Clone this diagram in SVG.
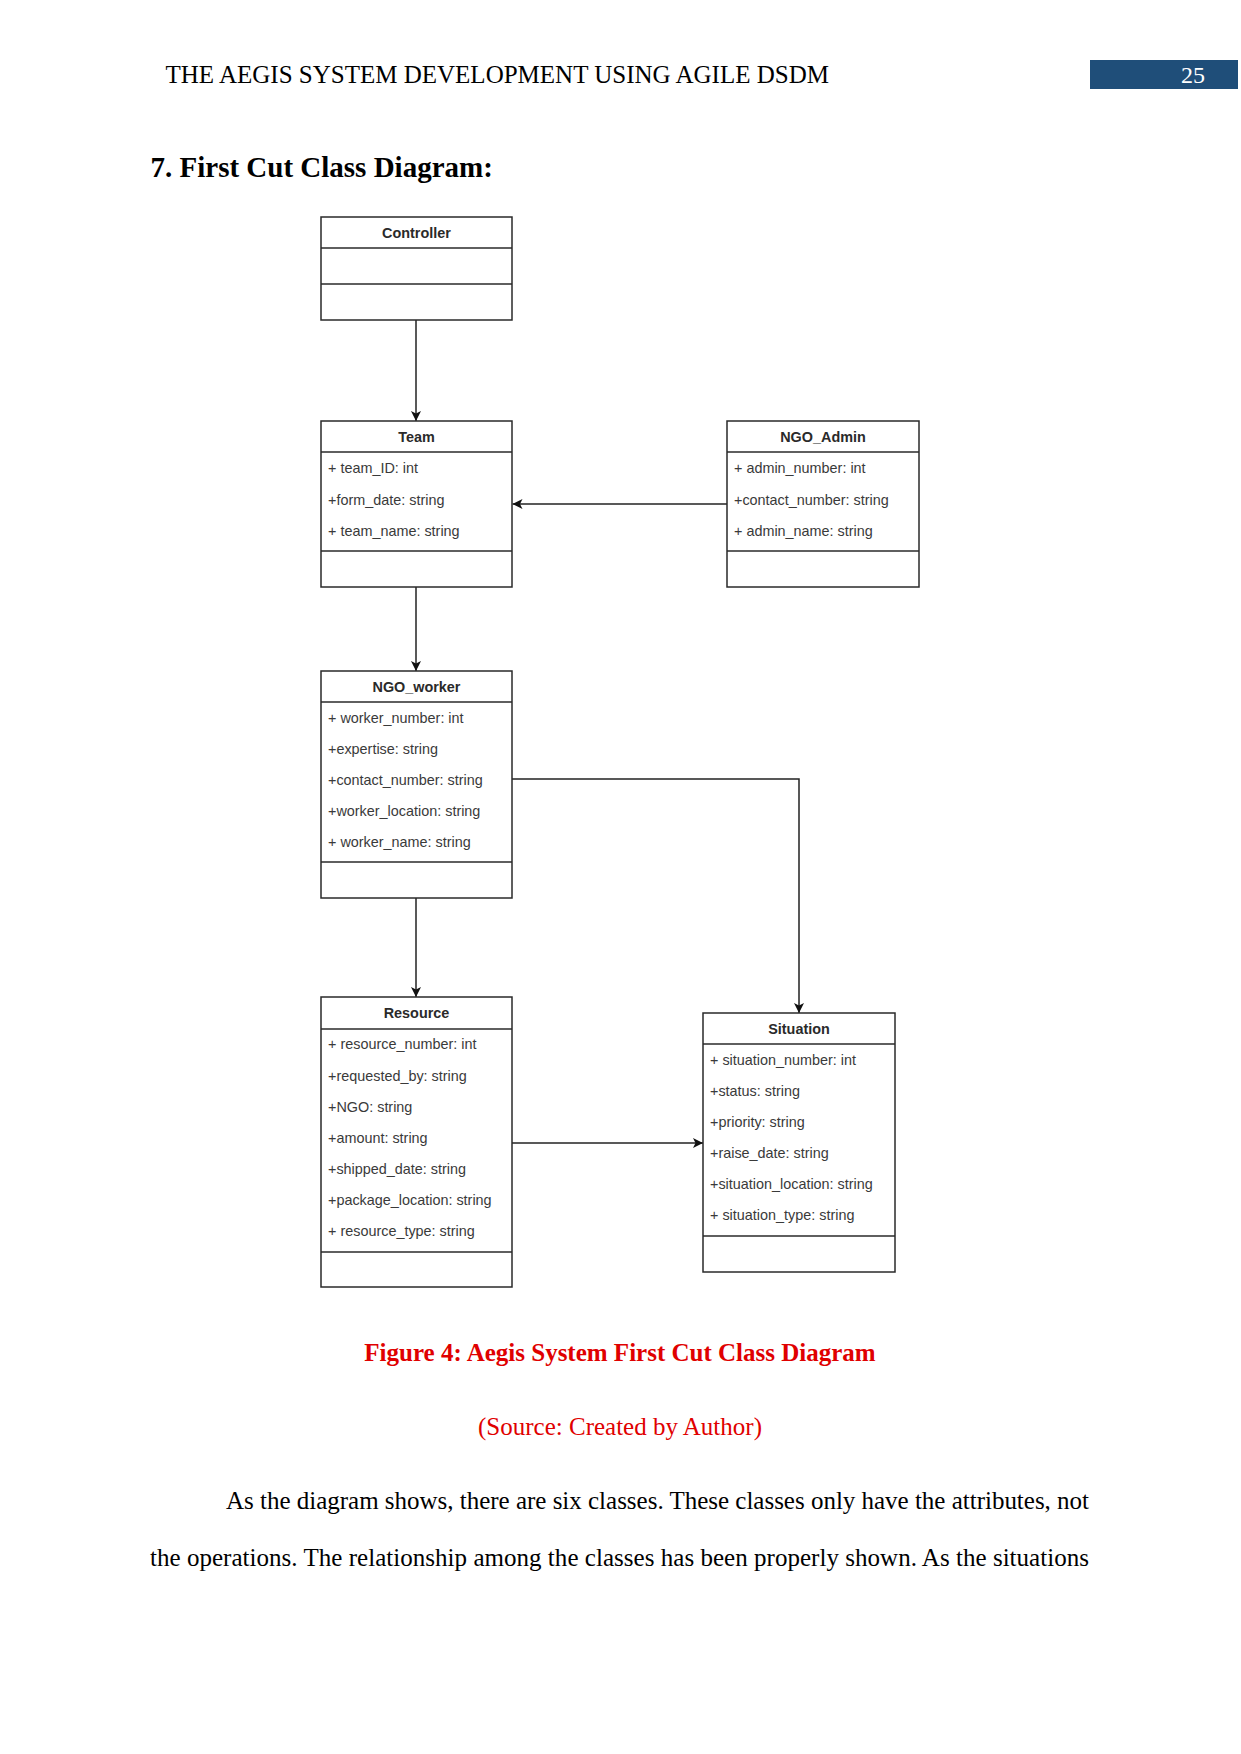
<svg xmlns="http://www.w3.org/2000/svg" width="1241" height="1754" viewBox="0 0 1241 1754">
<style>
.hdr{font-family:"Liberation Serif","Times New Roman",serif;font-size:25px;fill:#000}
.h1{font-family:"Liberation Serif","Times New Roman",serif;font-size:29px;font-weight:bold;fill:#000}
.cap{font-family:"Liberation Serif","Times New Roman",serif;font-size:25px;fill:#e00000}
.body{font-family:"Liberation Serif","Times New Roman",serif;font-size:25px;fill:#000}
.box{fill:#fff;stroke:#2a2a2a;stroke-width:1.5}
.div{stroke:#2a2a2a;stroke-width:1.5}
.cn{font-family:"Liberation Sans",Arial,sans-serif;font-size:14.4px;font-weight:bold;fill:#2a2a2a;text-anchor:middle}
.at{font-family:"Liberation Sans",Arial,sans-serif;font-size:14.4px;fill:#3a3a3a}
.edge{fill:none;stroke:#222;stroke-width:1.5}
</style>
<defs>
<marker id="arr" viewBox="0 0 10 10" refX="10" refY="5" markerWidth="10" markerHeight="10" markerUnits="userSpaceOnUse" orient="auto">
<path d="M0,0 L10,5 L0,10 L2.5,5 z" fill="#111"/>
</marker>
</defs>
<rect width="1241" height="1754" fill="#fff"/>

<!-- page header -->
<text class="hdr" x="165.5" y="83">THE AEGIS SYSTEM DEVELOPMENT USING AGILE DSDM</text>
<rect x="1090" y="60" width="148" height="29" fill="#1f4e79"/>
<text x="1181" y="82.5" font-family="Liberation Serif,'Times New Roman',serif" font-size="24" fill="#fff">25</text>

<text class="h1" x="150.5" y="176.7">7. First Cut Class Diagram:</text>

<!-- connectors -->
<g id="connectors">
<line class="edge" x1="416" y1="320" x2="416" y2="421" marker-end="url(#arr)"/>
<line class="edge" x1="727" y1="504" x2="512.5" y2="504" marker-end="url(#arr)"/>
<line class="edge" x1="416" y1="587" x2="416" y2="671" marker-end="url(#arr)"/>
<polyline class="edge" points="512,779 799,779 799,1013" marker-end="url(#arr)"/>
<line class="edge" x1="416" y1="898" x2="416" y2="997" marker-end="url(#arr)"/>
<line class="edge" x1="512" y1="1143" x2="703" y2="1143" marker-end="url(#arr)"/>
</g>

<g id="Controller">
<rect class="box" x="321" y="217" width="191" height="103"/>
<line class="div" x1="321" y1="248" x2="512" y2="248"/>
<line class="div" x1="321" y1="284" x2="512" y2="284"/>
<text class="cn" x="416.5" y="238">Controller</text>
</g>

<g id="Team">
<rect class="box" x="321" y="421" width="191" height="166"/>
<line class="div" x1="321" y1="452" x2="512" y2="452"/>
<line class="div" x1="321" y1="551" x2="512" y2="551"/>
<text class="cn" x="416.5" y="441.5">Team</text>
<text class="at" x="328" y="473">+ team_ID: int</text>
<text class="at" x="328" y="505">+form_date: string</text>
<text class="at" x="328" y="536">+ team_name: string</text>
</g>

<g id="NGO_Admin">
<rect class="box" x="727" y="421" width="192" height="166"/>
<line class="div" x1="727" y1="452" x2="919" y2="452"/>
<line class="div" x1="727" y1="551" x2="919" y2="551"/>
<text class="cn" x="823" y="441.5">NGO_Admin</text>
<text class="at" x="734" y="473">+ admin_number: int</text>
<text class="at" x="734" y="505">+contact_number: string</text>
<text class="at" x="734" y="536">+ admin_name: string</text>
</g>

<g id="NGO_worker">
<rect class="box" x="321" y="671" width="191" height="227"/>
<line class="div" x1="321" y1="702" x2="512" y2="702"/>
<line class="div" x1="321" y1="862" x2="512" y2="862"/>
<text class="cn" x="416.5" y="691.5">NGO_worker</text>
<text class="at" x="328" y="723">+ worker_number: int</text>
<text class="at" x="328" y="754">+expertise: string</text>
<text class="at" x="328" y="785">+contact_number: string</text>
<text class="at" x="328" y="816">+worker_location: string</text>
<text class="at" x="328" y="847">+ worker_name: string</text>
</g>

<g id="Resource">
<rect class="box" x="321" y="997" width="191" height="290"/>
<line class="div" x1="321" y1="1029" x2="512" y2="1029"/>
<line class="div" x1="321" y1="1252" x2="512" y2="1252"/>
<text class="cn" x="416.5" y="1018">Resource</text>
<text class="at" x="328" y="1049">+ resource_number: int</text>
<text class="at" x="328" y="1081">+requested_by: string</text>
<text class="at" x="328" y="1112">+NGO: string</text>
<text class="at" x="328" y="1143">+amount: string</text>
<text class="at" x="328" y="1174">+shipped_date: string</text>
<text class="at" x="328" y="1205">+package_location: string</text>
<text class="at" x="328" y="1236">+ resource_type: string</text>
</g>

<g id="Situation">
<rect class="box" x="703" y="1013" width="192" height="259"/>
<line class="div" x1="703" y1="1044" x2="895" y2="1044"/>
<line class="div" x1="703" y1="1236" x2="895" y2="1236"/>
<text class="cn" x="799" y="1033.5">Situation</text>
<text class="at" x="710" y="1065">+ situation_number: int</text>
<text class="at" x="710" y="1096">+status: string</text>
<text class="at" x="710" y="1127">+priority: string</text>
<text class="at" x="710" y="1158">+raise_date: string</text>
<text class="at" x="710" y="1189">+situation_location: string</text>
<text class="at" x="710" y="1220">+ situation_type: string</text>
</g>

<!-- caption -->
<text class="cap" x="620" y="1361" text-anchor="middle" font-weight="bold">Figure 4: Aegis System First Cut Class Diagram</text>
<text class="cap" x="620" y="1435" text-anchor="middle">(Source: Created by Author)</text>

<!-- body text -->
<text class="body" x="226" y="1509" textLength="863" lengthAdjust="spacing">As the diagram shows, there are six classes. These classes only have the attributes, not</text>
<text class="body" x="150" y="1566" textLength="939" lengthAdjust="spacing">the operations. The relationship among the classes has been properly shown. As the situations</text>
</svg>
